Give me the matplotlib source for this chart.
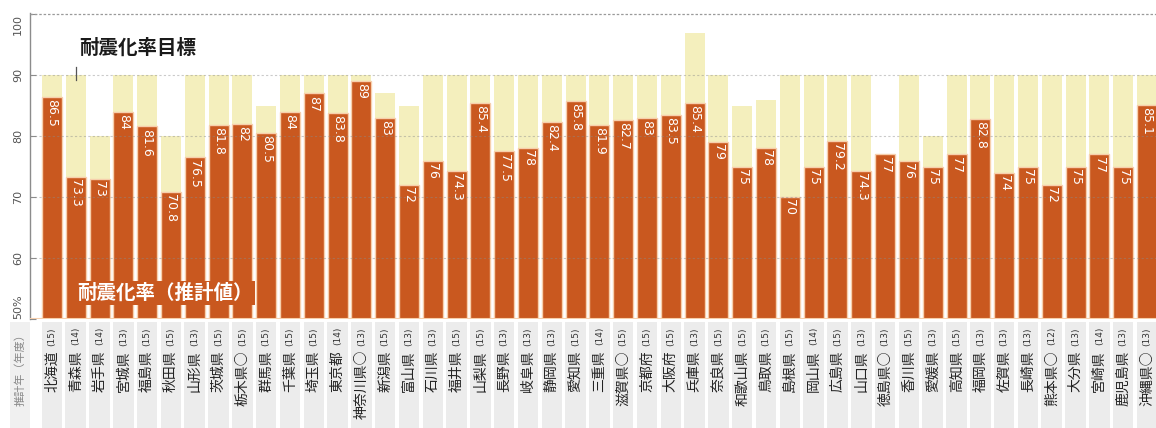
import matplotlib
matplotlib.use("Agg")
import matplotlib.pyplot as plt
import numpy as np

plt.rcParams['font.family'] = ['Noto Sans CJK JP', 'DejaVu Sans']

prefectures = ["北海道", "青森県", "岩手県", "宮城県", "福島県", "秋田県", "山形県", "茨城県",
               "栃木県○", "群馬県", "千葉県", "埼玉県", "東京都", "神奈川県○", "新潟県", "富山県",
               "石川県", "福井県", "山梨県", "長野県", "岐阜県", "静岡県", "愛知県", "三重県",
               "滋賀県○", "京都府", "大阪府", "兵庫県", "奈良県", "和歌山県", "鳥取県", "島根県",
               "岡山県", "広島県", "山口県", "徳島県○", "香川県", "愛媛県", "高知県", "福岡県",
               "佐賀県", "長崎県", "熊本県○", "大分県", "宮崎県", "鹿児島県", "沖縄県○"]
years = ["15", "14", "14", "13", "15", "15", "13", "15",
         "15", "15", "15", "15", "14", "13", "15", "13",
         "13", "15", "15", "13", "13", "13", "15", "14",
         "15", "15", "15", "13", "15", "15", "15", "15",
         "14", "15", "13", "13", "15", "13", "15", "13",
         "13", "13", "12", "13", "14", "13", "13"]
rate = [86.5, 73.3, 73, 84, 81.6, 70.8, 76.5, 81.8,
        82, 80.5, 84, 87, 83.8, 89, 83, 72,
        76, 74.3, 85.4, 77.5, 78, 82.4, 85.8, 81.9,
        82.7, 83, 83.5, 85.4, 79, 75, 78, 70,
        75, 79.2, 74.3, 77, 76, 75, 77, 82.8,
        74, 75, 72, 75, 77, 75, 85.1]
target = [90, 90, 80, 90, 90, 80, 90, 90,
          90, 85, 90, 90, 90, 90, 87, 85,
          90, 90, 90, 90, 90, 90, 90, 90,
          90, 90, 90, 97, 90, 85, 86, 90,
          90, 90, 90, np.nan, 90, 80, 90, 90,
          90, 90, 90, 90, 90, 90, 90]
yticks = [50, 60, 70, 80, 90, 100]
ytick_labels = ["50%", "60", "70", "80", "90", "100"]

W, H = 1156, 428
fig = plt.figure(figsize=(W / 100, H / 100), dpi=100)

x = np.arange(len(prefectures))
xlim = (-0.92, len(prefectures) - 1 + 0.38)

ORANGE = "#c9581f"
YELLOW = "#f4efbd"
PEACH = "#f7cfac"

# main axes
ax = fig.add_axes([30 / W, 1 - 319 / H, 1 - 30 / W, (319 - 13) / H])
ax.set_xlim(*xlim)
ax.set_ylim(50, 100.2)

base = 50
tgt = np.array(target, dtype=float)
ax.bar(x, tgt - base, bottom=base, width=0.84, color=YELLOW, edgecolor="none", zorder=1)
ax.bar(x, np.array(rate) - base, bottom=base, width=0.84, color=ORANGE,
       edgecolor=PEACH, linewidth=1.0, zorder=2)

for yv in [60, 70, 80, 90]:
    ax.axhline(yv, color="#8a8a8a", lw=0.8, ls=(0, (2, 2)), alpha=0.45, zorder=3)
ax.axhline(100, color="#9a9a9a", lw=0.9, ls=(0, (2, 1.5)), zorder=3)
ax.axhline(50, color=PEACH, lw=1.5, zorder=3)

for xi, v in zip(x, rate):
    lab = f"{v:g}"
    ax.text(xi, v - 0.35, lab, rotation=270, ha="center", va="top", color="white",
            fontsize=9, family=["Liberation Sans Narrow", "DejaVu Sans"], zorder=4)

for s in ["top", "right", "bottom"]:
    ax.spines[s].set_visible(False)
ax.spines["left"].set_color("#8c8c8c")
ax.spines["left"].set_linewidth(1.0)
ax.set_xticks([])
ax.set_yticks(yticks)
ax.tick_params(axis="y", direction="in", length=4, color="#8c8c8c", labelleft=False)

for yv, lab in zip(yticks, ytick_labels):
    va = "center"
    if yv == 100:
        va = "top"
    elif yv == 50:
        va = "bottom"
    ax.text(-0.92 - 12 / 23.8, yv, lab, rotation=90, ha="center", va=va,
            fontsize=8, color="#555555", clip_on=False, family="DejaVu Sans")

# annotations
ax.text(3.6, 94.4, "耐震化率目標", ha="center", va="center", fontsize=14,
        fontweight="bold", color="#1a1a1a", zorder=5)
ax.plot([1, 1], [91.3, 89.2], color="#555555", lw=0.9, zorder=5)
ax.text(4.75, 54.3, "耐震化率（推計値）", ha="center", va="center", fontsize=14,
        fontweight="bold", color="white", zorder=5,
        bbox=dict(boxstyle="square,pad=0.12", facecolor=ORANGE, edgecolor="none"))

# label axes
lax = fig.add_axes([30 / W, 0, 1 - 30 / W, (428 - 322) / H])
lax.set_xlim(*xlim)
lax.set_ylim(0, 1)
lax.axis("off")
lax.bar(x, 1, bottom=0, width=0.86, color="#ececec", edgecolor="none", zorder=0)
for xi, name, yr in zip(x, prefectures, years):
    lax.text(xi, 1 - 5 / 106, f"({yr})", rotation=90, ha="center", va="top",
             fontsize=6.5, color="#333333", family="DejaVu Sans")
    lax.text(xi, 1 - 28 / 106, name, rotation=90, ha="center", va="top",
             fontsize=10, color="#222222")

fig.patches.append(plt.Rectangle((10 / W, 0), 20 / W, 106 / H, transform=fig.transFigure,
                                 facecolor="#f0f0f0", edgecolor="none", zorder=0))
fig.text(20 / W, 1 - 328 / H, "推計年（年度）", rotation=90, ha="center", va="top",
         fontsize=8, color="#888888")

fig.savefig("out.png", dpi=100)
